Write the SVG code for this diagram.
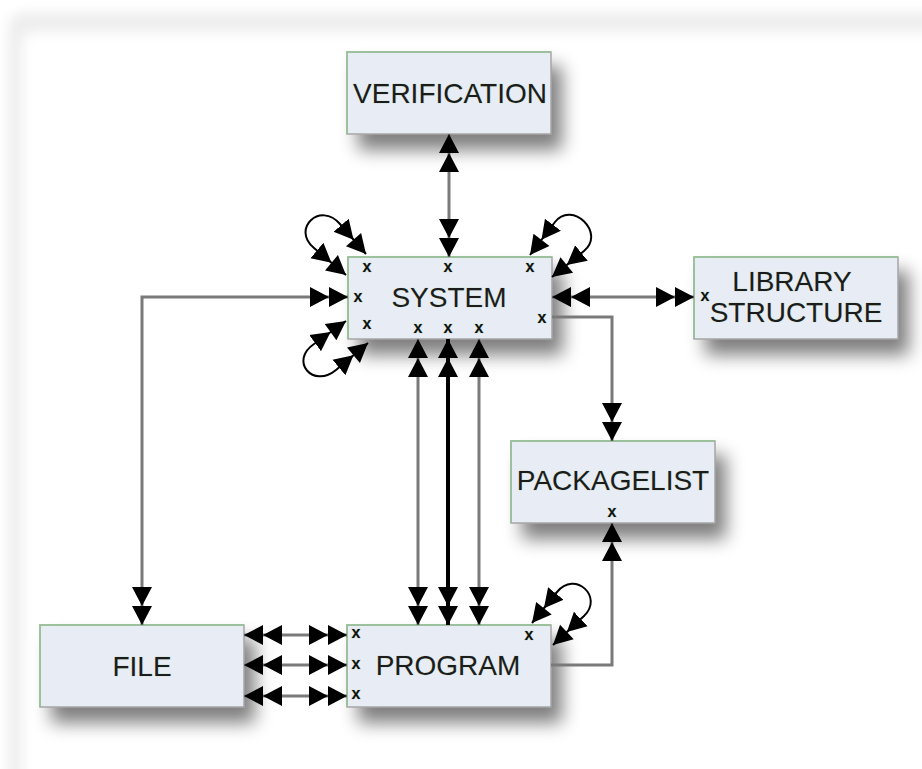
<svg xmlns="http://www.w3.org/2000/svg" width="922" height="769" viewBox="0 0 922 769">
<style>
.box{fill:#e8ecf4;stroke:#a6a6a6;stroke-width:1.5}
.edge{fill:none;stroke:#92c492;stroke-width:1.5}
.shadow{fill:#000;opacity:0.5}
.lbl{font-family:"Liberation Sans",Arial,sans-serif;font-size:28px;fill:#1c1c1c;text-anchor:middle;stroke:#8fc78f;stroke-width:0.5;stroke-opacity:0.6;paint-order:stroke}
.x{font-family:"Liberation Sans",Arial,sans-serif;font-size:16px;font-weight:bold;fill:#111;text-anchor:middle;stroke:#7fc07f;stroke-width:0.6;stroke-opacity:0.6;paint-order:stroke}
.ln{fill:none;stroke:#7a7a7a;stroke-width:3}
.lnb{fill:none;stroke:#000;stroke-width:4}
.loop{fill:none;stroke:#000;stroke-width:2}
</style>
<defs>
<filter id="sh" x="-30%" y="-40%" width="160%" height="190%"><feGaussianBlur stdDeviation="9"/></filter>
<filter id="soft" x="-5%" y="-5%" width="110%" height="110%"><feGaussianBlur stdDeviation="6"/></filter>
<marker id="dbl" markerUnits="userSpaceOnUse" viewBox="0 -11 40 22" markerWidth="40" markerHeight="22" refX="38" refY="0" orient="auto-start-reverse">
<path d="M0,-10 L19,0 L0,10 Z M19,-10 L38,0 L19,10 Z" fill="#000"/>
</marker>
</defs>
<rect width="922" height="769" fill="#fff"/>
<rect x="8" y="12" width="960" height="820" rx="16" fill="#eeeeee" filter="url(#soft)"/>
<rect x="22" y="32" width="940" height="790" rx="12" fill="#fff" filter="url(#soft)"/>

<g id="shadows">
<rect class="shadow" x="358" y="66" width="204" height="84" filter="url(#sh)"/>
<rect class="shadow" x="359" y="271" width="204" height="84" filter="url(#sh)"/>
<rect class="shadow" x="705" y="271" width="204" height="84" filter="url(#sh)"/>
<rect class="shadow" x="522" y="455" width="204" height="84" filter="url(#sh)"/>
<rect class="shadow" x="51" y="639" width="204" height="84" filter="url(#sh)"/>
<rect class="shadow" x="358" y="639" width="204" height="84" filter="url(#sh)"/>
</g>

<g id="verification">
<rect class="box" x="347" y="52" width="204" height="82"/>
<polyline class="edge" points="347,134 347,52 551,52"/>
<text class="lbl" x="450" y="103">VERIFICATION</text>
</g>

<g id="system">
<rect class="box" x="348" y="257" width="204" height="82"/>
<polyline class="edge" points="348,339 348,257 552,257"/>
<text class="lbl" x="449" y="307">SYSTEM</text>
<text class="x" x="367" y="272">x</text>
<text class="x" x="448" y="272">x</text>
<text class="x" x="530" y="272">x</text>
<text class="x" x="358" y="302">x</text>
<text class="x" x="367" y="329">x</text>
<text class="x" x="418" y="333">x</text>
<text class="x" x="448" y="333">x</text>
<text class="x" x="479" y="333">x</text>
<text class="x" x="542" y="323">x</text>
</g>

<g id="library-structure">
<rect class="box" x="694" y="257" width="204" height="82"/>
<polyline class="edge" points="694,339 694,257 898,257"/>
<text class="lbl" x="792" y="291">LIBRARY</text>
<text class="lbl" x="796" y="322">STRUCTURE</text>
<text class="x" x="705" y="301">x</text>
</g>

<g id="packagelist">
<rect class="box" x="511" y="441" width="204" height="82"/>
<polyline class="edge" points="511,523 511,441 715,441"/>
<text class="lbl" x="613" y="490">PACKAGELIST</text>
<text class="x" x="612" y="517">x</text>
</g>

<g id="file">
<rect class="box" x="40" y="625" width="204" height="82"/>
<polyline class="edge" points="40,707 40,625 244,625"/>
<text class="lbl" x="142" y="676">FILE</text>
</g>

<g id="program">
<rect class="box" x="347" y="625" width="204" height="82"/>
<polyline class="edge" points="347,707 347,625 551,625"/>
<text class="lbl" x="448" y="675">PROGRAM</text>
<text class="x" x="356" y="638">x</text>
<text class="x" x="356" y="669">x</text>
<text class="x" x="356" y="699">x</text>
<text class="x" x="529" y="640">x</text>
</g>

<g id="connectors">
<path class="ln" d="M449,134 L449,257" marker-start="url(#dbl)" marker-end="url(#dbl)"/>
<path class="ln" d="M348,297 L142,297 L142,625" marker-start="url(#dbl)" marker-end="url(#dbl)"/>
<path class="ln" d="M552,297 L694,297" marker-start="url(#dbl)" marker-end="url(#dbl)"/>
<path class="ln" d="M552,317 L612,317 L612,441" marker-end="url(#dbl)"/>
<path class="ln" d="M418,339 L418,625" marker-start="url(#dbl)" marker-end="url(#dbl)"/>
<path class="lnb" d="M448,339 L448,625" marker-start="url(#dbl)" marker-end="url(#dbl)"/>
<path class="ln" d="M479,339 L479,625" marker-start="url(#dbl)" marker-end="url(#dbl)"/>
<path class="ln" d="M551,665 L612,665 L612,523" marker-end="url(#dbl)"/>
<path class="ln" d="M244,635 L347,635" marker-start="url(#dbl)" marker-end="url(#dbl)"/>
<path class="ln" d="M244,665 L347,665" marker-start="url(#dbl)" marker-end="url(#dbl)"/>
<path class="ln" d="M244,696 L347,696" marker-start="url(#dbl)" marker-end="url(#dbl)"/>
<path class="loop" d="M366,254 L340,224 C320,201 291,229 314,248 L346,275" marker-start="url(#dbl)" marker-end="url(#dbl)"/>
<path class="loop" d="M346,321 L314,344 C289,361 313,389 336,370 L368,343" marker-start="url(#dbl)" marker-end="url(#dbl)"/>
<path class="loop" d="M530,255 L555,222 C572,200 606,233 584,251 L552,277" marker-start="url(#dbl)" marker-end="url(#dbl)"/>
<path class="loop" d="M532,623 L557,592 C575,570 604,597 584,616 L553,645" marker-start="url(#dbl)" marker-end="url(#dbl)"/>
</g>
</svg>
